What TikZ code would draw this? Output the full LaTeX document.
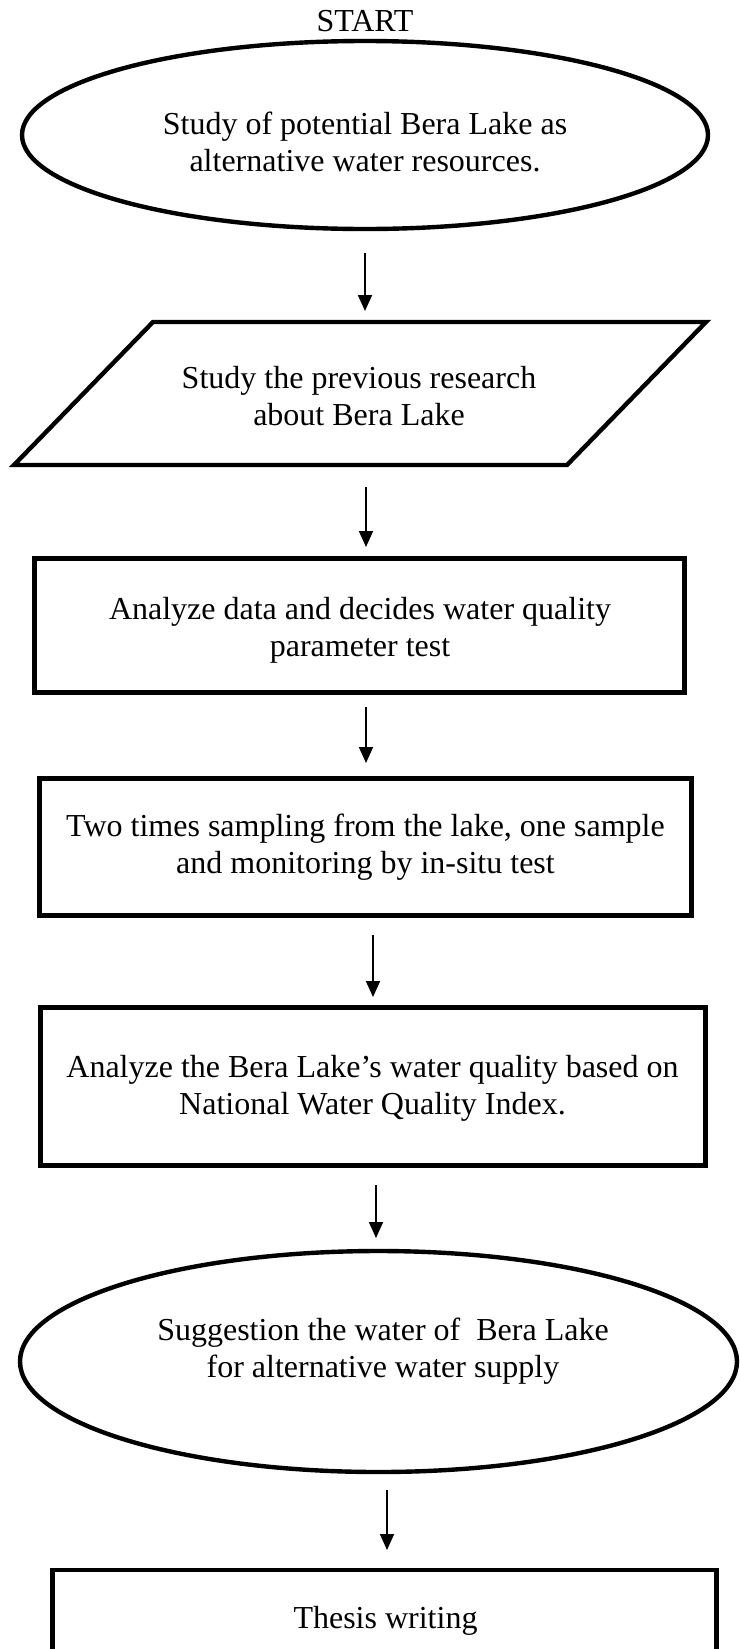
\documentclass[tikz,border=0pt]{standalone}
\usepackage{fontspec}
\setmainfont{Liberation Serif}
\usetikzlibrary{shapes.geometric,arrows.meta}
\begin{document}
\begin{tikzpicture}[x=1pt,y=-1pt,
  shapebox/.style={draw=black, line width=4.4pt, inner sep=0pt},
  ell/.style={shapebox, ellipse},
  rectbox/.style={shapebox, rectangle},
  txt/.style={align=center, inner sep=0pt, font=\fontsize{32}{37}\selectfont},
  arr/.style={line width=1.8pt, -{Triangle[length=16pt,width=14pt]}}]
\fill[white] (0,0) rectangle (739,1649);
\useasboundingbox (0,0) rectangle (739,1649);

% shapes
\node[txt] (start) at (365,21) {START};
\node[ell, minimum width=686pt, minimum height=188pt] (e1) at (365,135) {};
\node[txt] (e1t) at (365,141.5) {Study of potential Bera Lake as\\alternative water resources.};

\coordinate (pbl) at (14,465);
\coordinate (ptl) at (153,322);
\coordinate (ptr) at (706,322);
\coordinate (pbr) at (567,465);
\draw[line width=4.4pt, line join=miter] (pbl) -- (ptl) -- (ptr) -- (pbr) -- cycle;
\node[txt] (para) at (359,396.5) {Study the previous research\\about Bera Lake};

\node[rectbox, minimum width=650pt, minimum height=134pt] (r1) at (359.5,625.5) {};
\node[txt] (r1t) at (360,630) {Analyze data and decides water quality\\parameter test};

\node[rectbox, minimum width=652pt, minimum height=137pt] (r2) at (365.5,847) {};
\node[txt] (r2t) at (365.5,847) {Two times sampling from the lake, one sample\\and monitoring by in-situ test};

\node[rectbox, minimum width=665pt, minimum height=158pt] (r3) at (373,1086.5) {};
\node[txt] (r3t) at (372.5,1088.5) {Analyze the Bera Lake’s water quality based on\\National Water Quality Index.};

\node[ell, minimum width=717pt, minimum height=221pt] (e2) at (378.5,1361.5) {};
\node[txt] (e2t) at (383,1351.5) {Suggestion the water of~ Bera Lake\\for alternative water supply};

\node[rectbox, minimum width=664pt, minimum height=102pt] (r4) at (384.5,1621) {};
\node[txt] (r4t) at (385.5,1620.5) {Thesis writing};

% connectors
\coordinate (a1s) at (365,253);  \coordinate (a1e) at (365,311);
\coordinate (a2s) at (366,487);  \coordinate (a2e) at (366,547);
\coordinate (a3s) at (366,707);  \coordinate (a3e) at (366,763);
\coordinate (a4s) at (373,935);  \coordinate (a4e) at (373,997);
\coordinate (a5s) at (376,1185); \coordinate (a5e) at (376,1238);
\coordinate (a6s) at (387,1490); \coordinate (a6e) at (387,1550);
\draw[arr] (a1s) -- (a1e);
\draw[arr] (a2s) -- (a2e);
\draw[arr] (a3s) -- (a3e);
\draw[arr] (a4s) -- (a4e);
\draw[arr] (a5s) -- (a5e);
\draw[arr] (a6s) -- (a6e);
\end{tikzpicture}
\end{document}
